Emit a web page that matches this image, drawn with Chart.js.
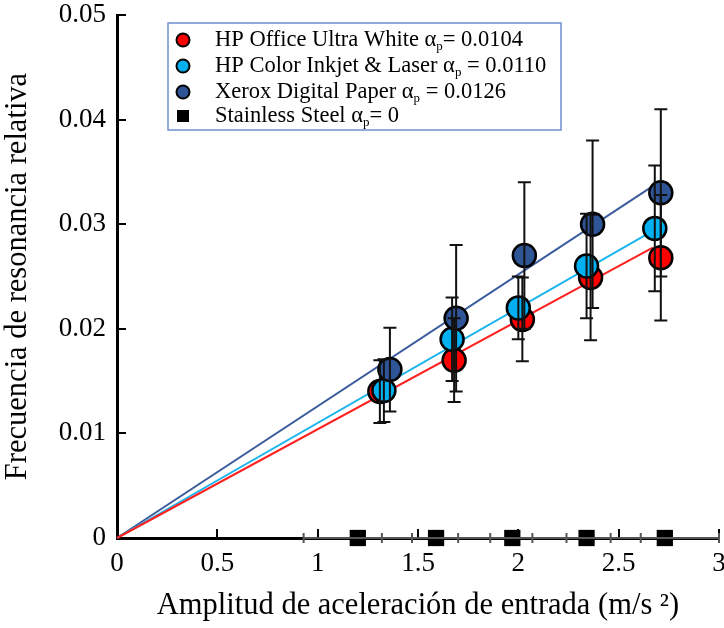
<!DOCTYPE html>
<html lang="es">
<head>
    <meta charset="UTF-8">
    <title>Frecuencia de resonancia relativa</title>
    <style>
        html, body {
            margin: 0;
            padding: 0;
            background: #ffffff;
            overflow: hidden;
        }
        canvas {
            display: block;
        }
    </style>
</head>
<body>
    <!-- un poco más ancho que la ventana: el "3" final queda cortado en el borde -->
    <canvas id="mychart" width="733" height="628"></canvas>

    <script src="https://cdn.jsdelivr.net/npm/chart.js@4.4.1/dist/chart.umd.min.js"></script>
    <script>
        // 데이터: amplitud de aceleración (m/s²) vs frecuencia relativa
        const xOffice = [1.31, 1.68, 2.02, 2.36, 2.71];
        const yOffice = [0.0140, 0.0170, 0.0209, 0.0249, 0.0268];
        const eOffice = [0.003, 0.004, 0.004, 0.006, 0.006];

        const xColor = [1.33, 1.67, 2.00, 2.34, 2.68];
        const yColor = [0.0141, 0.0190, 0.0220, 0.0260, 0.0296];
        const eColor = [0.003, 0.004, 0.003, 0.005, 0.006];

        const xXerox = [1.36, 1.69, 2.03, 2.37, 2.71];
        const yXerox = [0.0161, 0.0210, 0.0270, 0.0300, 0.0330];
        const eXerox = [0.004, 0.007, 0.007, 0.008, 0.008];

        const xSteel = [1.20, 1.59, 1.97, 2.34, 2.73];
        const ySteel = [0, 0, 0, 0, 0];
        const exSteel = [0.27, 0.27, 0.27, 0.27, 0.27];

        // pendientes de ajuste (α_p) y fin de la recta
        const alphas = [0.0104, 0.0110, 0.0126];
        const fitEnd = 2.67;

        const legendNames = ['HP Office Ultra White α', 'HP Color Inkjet & Laser α', 'Xerox Digital Paper α', 'Stainless Steel α'];
        const legendValues = ['= 0.0104', ' = 0.0110', ' = 0.0126', '= 0'];

        const xTicks = [0, 0.5, 1, 1.5, 2, 2.5, 3];
        const yTicks = [0, 0.01, 0.02, 0.03, 0.04, 0.05];

        const seriesColors = ['#ff0000', '#00b0f0', '#2f5597'];
        const lineColors = ['#ff2020', '#1ab4ee', '#3b5c9c'];
        const serif = "'Liberation Serif', 'Times New Roman', serif";

        const paperX = [xOffice, xColor, xXerox];
        const paperY = [yOffice, yColor, yXerox];
        const paperE = [eOffice, eColor, eXerox];

        function toPoints(xs, ys) {
            const pts = [];
            for (let i = 0; i < xs.length; i++) {
                pts.push({ x: xs[i], y: ys[i] });
            }
            return pts;
        }

        const datasets = [];
        // rectas de ajuste (debajo de todo)
        for (let i = 0; i < 3; i++) {
            datasets.push({
                type: 'line',
                data: [{ x: 0, y: 0 }, { x: fitEnd, y: alphas[i] * fitEnd }],
                borderColor: lineColors[i],
                borderWidth: 2,
                pointRadius: 0,
                fill: false,
                clip: false,
                order: 10,
            });
        }
        // puntos de cada papel; el último queda encima
        for (let i = 0; i < 3; i++) {
            datasets.push({
                type: 'scatter',
                data: toPoints(paperX[i], paperY[i]),
                pointRadius: 11.5,
                pointBorderWidth: 2.5,
                pointBorderColor: '#000000',
                pointBackgroundColor: seriesColors[i],
                clip: false,
                order: 5 - i,
            });
        }
        // acero inoxidable
        datasets.push({
            type: 'scatter',
            data: toPoints(xSteel, ySteel),
            pointStyle: 'rect',
            pointRadius: 11.5,
            pointBorderWidth: 0,
            pointBackgroundColor: '#000000',
            clip: false,
            order: 0,
        });

        // marcas de los ejes hacia adentro
        const innerTicks = {
            id: 'innerTicks',
            beforeDatasetsDraw(chart) {
                const ctx = chart.ctx;
                const xs = chart.scales.x;
                const ys = chart.scales.y;
                ctx.save();
                ctx.strokeStyle = '#000';
                ctx.lineWidth = 2;
                ctx.beginPath();
                for (const v of xTicks) {
                    if (v === 0) continue;
                    const px = Math.round(xs.getPixelForValue(v));
                    ctx.moveTo(px, ys.bottom);
                    ctx.lineTo(px, ys.bottom - 9);
                }
                for (const v of yTicks) {
                    if (v === 0) continue;
                    const py = Math.round(ys.getPixelForValue(v));
                    ctx.moveTo(xs.left, py);
                    ctx.lineTo(xs.left + 9, py);
                }
                ctx.stroke();
                ctx.restore();
            }
        };

        // barras de error
        const errorBars = {
            id: 'errorBars',
            afterDatasetsDraw(chart) {
                const ctx = chart.ctx;
                const xs = chart.scales.x;
                const ys = chart.scales.y;
                ctx.save();

                // horizontales del acero (gris, sobre el eje)
                ctx.strokeStyle = '#555555';
                ctx.lineWidth = 2;
                for (let i = 0; i < xSteel.length; i++) {
                    const py = ys.getPixelForValue(ySteel[i]);
                    const x1 = xs.getPixelForValue(xSteel[i] - exSteel[i]);
                    const x2 = xs.getPixelForValue(xSteel[i] + exSteel[i]);
                    ctx.beginPath();
                    ctx.moveTo(x1, py);
                    ctx.lineTo(x2, py);
                    ctx.moveTo(x1, py - 5);
                    ctx.lineTo(x1, py + 5);
                    ctx.moveTo(x2, py - 5);
                    ctx.lineTo(x2, py + 5);
                    ctx.stroke();
                }

                // verticales de los papeles
                ctx.strokeStyle = '#111111';
                ctx.lineWidth = 2;
                for (let s = 0; s < 3; s++) {
                    for (let i = 0; i < paperX[s].length; i++) {
                        const px = xs.getPixelForValue(paperX[s][i]);
                        const y1 = ys.getPixelForValue(paperY[s][i] + paperE[s][i]);
                        const y2 = ys.getPixelForValue(paperY[s][i] - paperE[s][i]);
                        ctx.beginPath();
                        ctx.moveTo(px, y1);
                        ctx.lineTo(px, y2);
                        ctx.moveTo(px - 6.5, y1);
                        ctx.lineTo(px + 6.5, y1);
                        ctx.moveTo(px - 6.5, y2);
                        ctx.lineTo(px + 6.5, y2);
                        ctx.stroke();
                    }
                }
                ctx.restore();
            }
        };

        // leyenda con subíndice p
        const serifLegend = {
            id: 'serifLegend',
            afterDraw(chart) {
                const ctx = chart.ctx;
                const bx = 168, by = 23, bw = 393, bh = 107;
                ctx.save();
                ctx.fillStyle = '#ffffff';
                ctx.fillRect(bx, by, bw, bh);
                ctx.strokeStyle = '#6f8fcf';
                ctx.lineWidth = 1.5;
                ctx.strokeRect(bx, by, bw, bh);

                const rowY = [40, 66, 92, 116];
                const markX = 183;
                const textX = 215;
                for (let i = 0; i < 4; i++) {
                    const cy = rowY[i];
                    ctx.lineWidth = 2;
                    ctx.strokeStyle = '#000';
                    if (i < 3) {
                        ctx.beginPath();
                        ctx.arc(markX, cy, 6.5, 0, Math.PI * 2);
                        ctx.fillStyle = seriesColors[i];
                        ctx.fill();
                        ctx.stroke();
                    } else {
                        ctx.fillStyle = '#000';
                        ctx.fillRect(markX - 6, cy - 6, 12, 12);
                    }

                    ctx.fillStyle = '#000';
                    ctx.textBaseline = 'middle';
                    ctx.textAlign = 'left';
                    ctx.font = '22.5px ' + serif;
                    let x = textX;
                    ctx.fillText(legendNames[i], x, cy);
                    x += ctx.measureText(legendNames[i]).width;
                    ctx.font = '13px ' + serif;
                    ctx.fillText('p', x, cy + 7);
                    x += ctx.measureText('p').width;
                    ctx.font = '22.5px ' + serif;
                    ctx.fillText(legendValues[i], x, cy);
                }
                ctx.restore();
            }
        };

        const mychart = document.getElementById('mychart');

        new Chart(mychart, {
            data: { datasets: datasets },
            options: {
                responsive: false,
                animation: false,
                events: [],
                layout: {
                    padding: { top: 15, right: 5, bottom: 0, left: 0 },
                },
                plugins: {
                    legend: { display: false },
                    tooltip: { enabled: false },
                },
                scales: {
                    x: {
                        type: 'linear',
                        min: 0,
                        max: 3,
                        afterBuildTicks: (s) => { s.ticks = xTicks.map(v => ({ value: v })); },
                        afterFit: (s) => { s.height = 90; s.paddingLeft = 0; s.paddingRight = 0; },
                        grid: { display: false, drawTicks: false },
                        border: { color: '#000', width: 3 },
                        ticks: {
                            color: '#000',
                            padding: 10,
                            font: { family: serif, size: 27 },
                            maxRotation: 0,
                            autoSkip: false,
                            callback: (v) => String(v),
                        },
                        title: {
                            display: true,
                            text: 'Amplitud de aceleración de entrada (m/s ²)',
                            color: '#000',
                            font: { family: serif, size: 30.5 },
                            padding: { top: 0, bottom: 4 },
                        },
                    },
                    y: {
                        type: 'linear',
                        min: 0,
                        max: 0.05,
                        afterBuildTicks: (s) => { s.ticks = yTicks.map(v => ({ value: v })); },
                        afterFit: (s) => { s.width = 117; s.paddingTop = 0; s.paddingBottom = 0; },
                        grid: { display: false, drawTicks: false },
                        border: { color: '#000', width: 3 },
                        ticks: {
                            color: '#000',
                            padding: 11,
                            font: { family: serif, size: 27 },
                            callback: (v) => String(v),
                        },
                        title: {
                            display: true,
                            text: 'Frecuencia de resonancia relativa',
                            color: '#000',
                            font: { family: serif, size: 30.5 },
                            padding: { top: 0, bottom: 0 },
                        },
                    },
                },
            },
            plugins: [innerTicks, errorBars, serifLegend],
        });
    </script>
</body>
</html>
